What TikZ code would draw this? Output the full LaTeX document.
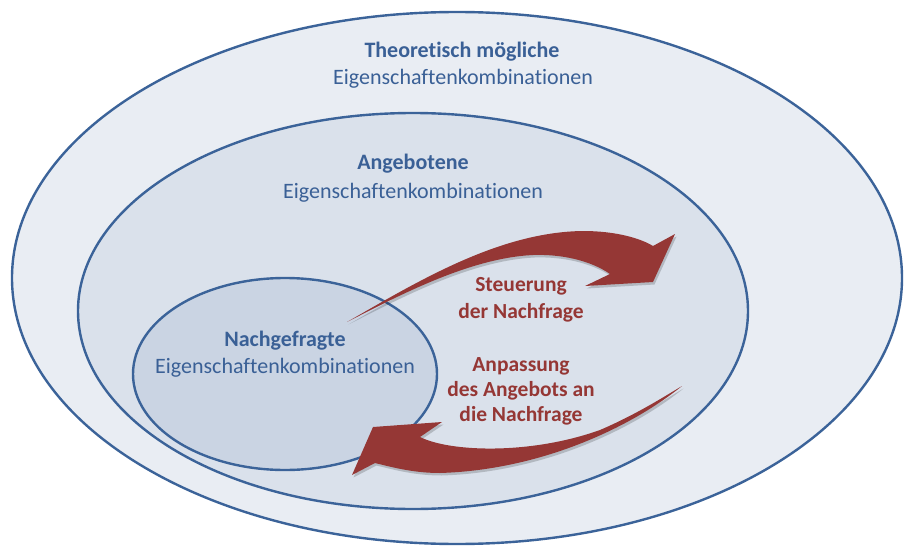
\documentclass[tikz,border=0pt]{standalone}
\usepackage{fontspec}
\setmainfont{Carlito}[Ligatures=NoCommon]
\begin{document}
\definecolor{ringline}{HTML}{3B6399}
\definecolor{outerfill}{HTML}{E9EDF3}
\definecolor{midfill}{HTML}{DAE1EB}
\definecolor{innerfill}{HTML}{CAD4E3}
\definecolor{bluetext}{HTML}{3A6096}
\definecolor{arrowred}{HTML}{953735}
\tikzset{
  ring/.style={draw=ringline, line width=2.4pt},
  lbl/.style={anchor=base, inner sep=0pt, font=\fontsize{22}{26}\selectfont},
  title/.style={lbl, text=bluetext, font=\fontsize{22}{26}\selectfont\bfseries},
  sub/.style={lbl, text=bluetext},
  redlbl/.style={lbl, text=arrowred, font=\fontsize{21.5}{26}\selectfont\bfseries},
  bigarrow/.style={fill=arrowred},
  arrowshadow/.style={fill=black, opacity=0.18}
}
\begin{tikzpicture}[x=1pt, y=-1pt]
  \useasboundingbox (0,0) rectangle (904,548);
  \fill[white] (0,0) rectangle (904,548);

  % nested sets
  \draw[ring, fill=outerfill] (457,278) ellipse [x radius=445, y radius=266];
  \draw[ring, fill=midfill] (413,311) ellipse [x radius=335, y radius=198];
  \draw[ring, fill=innerfill] (285,374) ellipse [x radius=152, y radius=96];

  % labels of the sets
  \node[title] (t1) at (462,58) {Theoretisch mögliche};
  \node[sub] (t2) at (463,85) {Eigenschaftenkombinationen};
  \node[title] (a1) at (413,170) {Angebotene};
  \node[sub] (a2) at (413,198) {Eigenschaftenkombinationen};
  \node[title] (n1) at (285,346) {Nachgefragte};
  \node[sub] (n2) at (285,373) {Eigenschaftenkombinationen};

  % labels of the arrows
  \node[redlbl] (s1) at (521,291) {Steuerung};
  \node[redlbl] (s2) at (521,318) {der Nachfrage};
  \node[redlbl] (p1) at (521,371) {Anpassung};
  \node[redlbl] (p2) at (521,396) {des Angebots an};
  \node[redlbl] (p3) at (521,421) {die Nachfrage};

  % upper curved arrow: steering demand
  \def\upperarrow{(347,322) .. controls (420,280) and (500,232) .. (583,231)
    .. controls (615,231) and (640,238) .. (653,246)
    -- (675,234) -- (653,282) -- (585,286) -- (610,274)
    .. controls (590,260) and (560,254) .. (533,255)
    .. controls (470,258) and (400,295) .. (347,322) -- cycle}
  % lower curved arrow: adapting supply
  \def\lowerarrow{(352,475) -- (373,427) -- (442,422) -- (420,437)
    .. controls (450,452) and (530,455) .. (600,430)
    .. controls (635,415) and (662,398) .. (682,386)
    .. controls (630,428) and (540,470) .. (440,473)
    .. controls (415,473) and (395,468) .. (375,463) -- cycle}

  \begin{scope}[shift={(1.5,2.5)}]
    \fill[arrowshadow] \upperarrow;
    \fill[arrowshadow] \lowerarrow;
  \end{scope}
  \fill[bigarrow] \upperarrow;
  \fill[bigarrow] \lowerarrow;
\end{tikzpicture}
\end{document}
